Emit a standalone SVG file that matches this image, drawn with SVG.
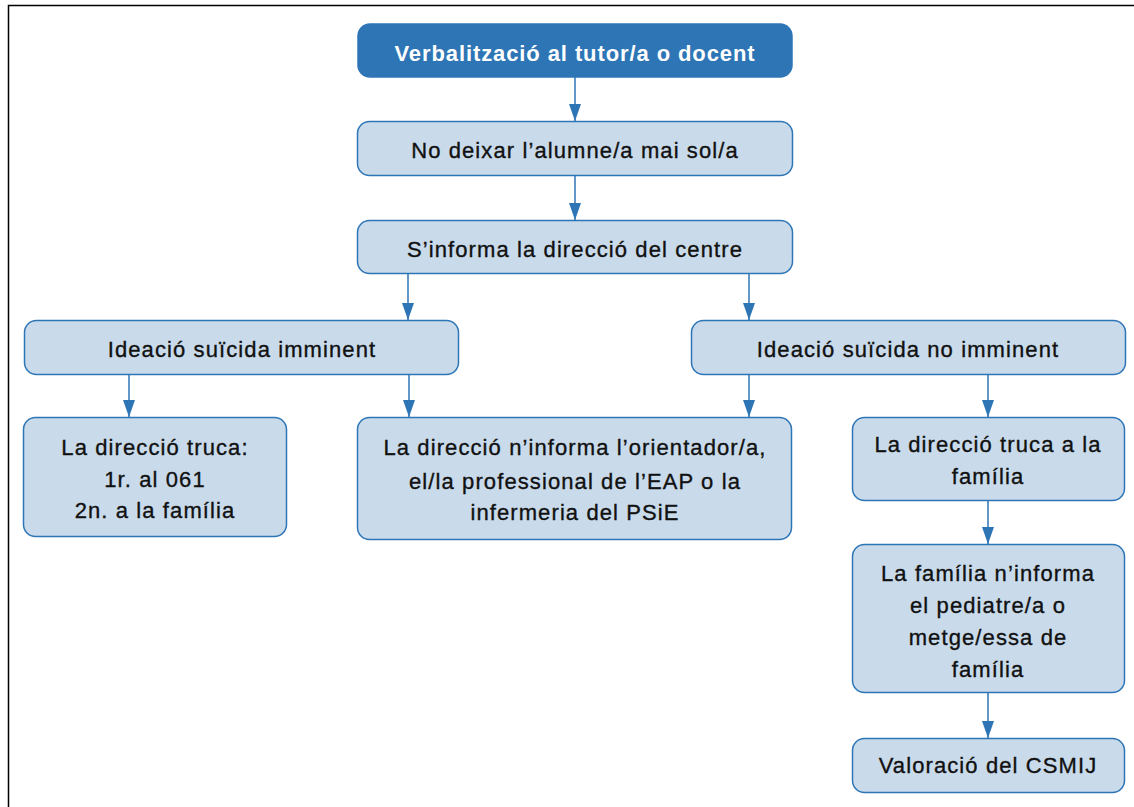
<svg xmlns="http://www.w3.org/2000/svg" width="1134" height="807" viewBox="0 0 1134 807">
<style>
.box{fill:#c9dbeb;stroke:#2e75b6;stroke-width:1.5}
.top{fill:#2e75b6;stroke:#2e75b6;stroke-width:1.5}
text{font-family:"Liberation Sans",Arial,sans-serif;font-size:22px;letter-spacing:1.1px;text-anchor:middle;fill:#111;stroke:#111;stroke-width:0.35}
.w{fill:#fff;stroke:none;font-weight:bold;letter-spacing:0.9px}
.c{stroke:#2e75b6;stroke-width:1.5;fill:none;marker-end:url(#ah)}
</style>
<defs>
<marker id="ah" markerUnits="userSpaceOnUse" markerWidth="17" markerHeight="12" refX="17" refY="6" orient="auto" viewBox="0 0 17 12">
<path d="M0,0 L17,6 L0,12 Z" fill="#2e75b6"/>
</marker>
</defs>
<rect width="1134" height="807" fill="#fff"/>
<path d="M8.5,807 V5.5 H1134" fill="none" stroke="#000" stroke-width="1.5"/>
<g id="connectors">
<path class="c" d="M575,77 V121"/>
<path class="c" d="M575,176 V220"/>
<path class="c" d="M408,274 V320"/>
<path class="c" d="M749,274 V320"/>
<path class="c" d="M129,374 V417"/>
<path class="c" d="M409,374 V417"/>
<path class="c" d="M749,374 V417"/>
<path class="c" d="M988,374 V417"/>
<path class="c" d="M988,501 V544"/>
<path class="c" d="M988,693 V738"/>
</g>
<g id="n1"><rect class="top" x="358" y="24" width="434" height="53" rx="12"/><text class="w" x="575" y="61">Verbalització al tutor/a o docent</text></g>
<g id="n2"><rect class="box" x="357.5" y="121.5" width="435" height="54" rx="12"/><text x="575" y="158">No deixar l’alumne/a mai sol/a</text></g>
<g id="n3"><rect class="box" x="357.5" y="220.5" width="435" height="53" rx="12"/><text x="575" y="257">S’informa la direcció del centre</text></g>
<g id="n4"><rect class="box" x="24.5" y="320.5" width="434" height="54" rx="12"/><text x="242" y="357">Ideació suïcida imminent</text></g>
<g id="n5"><rect class="box" x="691.5" y="320.5" width="434" height="54" rx="12"/><text x="908" y="357">Ideació suïcida no imminent</text></g>
<g id="n6"><rect class="box" x="23.5" y="417.5" width="263" height="119" rx="12"/><text x="155" y="455">La direcció truca:</text><text x="155" y="487">1r. al 061</text><text x="155" y="518">2n. a la família</text></g>
<g id="n7"><rect class="box" x="357.5" y="417.5" width="434" height="122" rx="12"/><text x="575" y="455">La direcció n’informa l’orientador/a,</text><text x="575" y="489">el/la professional de l’EAP o la</text><text x="575" y="520">infermeria del PSiE</text></g>
<g id="n8"><rect class="box" x="852.5" y="417.5" width="272" height="83" rx="12"/><text x="988" y="452">La direcció truca a la</text><text x="988" y="484">família</text></g>
<g id="n9"><rect class="box" x="852.5" y="544.5" width="272" height="148" rx="12"/><text x="988" y="581">La família n’informa</text><text x="988" y="613">el pediatre/a o</text><text x="988" y="645">metge/essa de</text><text x="988" y="677">família</text></g>
<g id="n10"><rect class="box" x="852.5" y="738.5" width="272" height="54" rx="12"/><text x="988" y="773">Valoració del CSMIJ</text></g>
</svg>
